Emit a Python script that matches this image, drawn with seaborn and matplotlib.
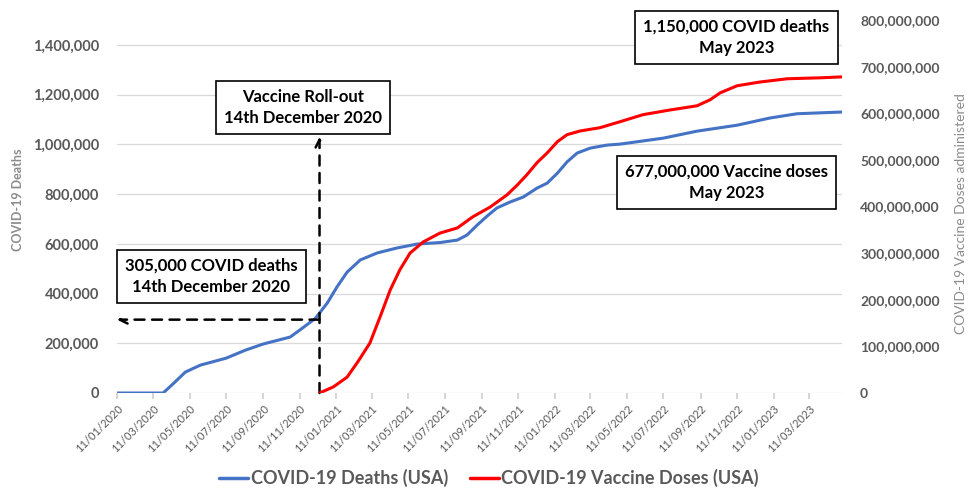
import pandas as pd
import numpy as np
import matplotlib
matplotlib.use("Agg")
import matplotlib.pyplot as plt
import matplotlib.ticker as mticker
from matplotlib.lines import Line2D
import seaborn as sns

# 数据
death_dates = ["2020-01-11", "2020-03-28", "2020-04-15", "2020-05-04", "2020-05-29", "2020-07-11",
               "2020-08-12", "2020-09-11", "2020-10-26", "2020-11-11", "2020-12-07", "2020-12-27",
               "2021-01-12", "2021-01-29", "2021-02-20", "2021-03-20", "2021-04-22", "2021-05-26",
               "2021-07-03", "2021-08-01", "2021-08-17", "2021-09-03", "2021-09-20", "2021-10-06",
               "2021-10-28", "2021-11-19", "2021-12-12", "2021-12-29", "2022-01-15", "2022-01-31",
               "2022-02-17", "2022-03-11", "2022-04-08", "2022-04-30", "2022-07-11", "2022-09-05",
               "2022-11-11", "2023-01-05", "2023-02-19", "2023-05-05"]
deaths = [0, 0, 40000, 84000, 112000, 140000,
          172000, 197000, 225000, 253000, 300000, 362000,
          426000, 486000, 535000, 563000, 583000, 599000,
          605000, 615000, 635000, 675000, 712000, 744000,
          768000, 788000, 824000, 844000, 884000, 929000,
          965000, 985000, 997000, 1001000, 1025000, 1053000,
          1077000, 1106000, 1123000, 1130000]

vax_dates = ["2020-12-14", "2021-01-06", "2021-01-29", "2021-02-16", "2021-03-08", "2021-03-25",
             "2021-04-11", "2021-04-27", "2021-05-14", "2021-06-05", "2021-07-03", "2021-08-01",
             "2021-08-27", "2021-09-25", "2021-10-23", "2021-11-09", "2021-11-25", "2021-12-12",
             "2021-12-29", "2022-01-15", "2022-01-31", "2022-02-22", "2022-03-27", "2022-04-30",
             "2022-06-07", "2022-07-22", "2022-09-05", "2022-09-27", "2022-10-14", "2022-11-11",
             "2022-12-19", "2023-02-03", "2023-03-30", "2023-05-05"]
vax_doses = [0, 13e6, 34e6, 67e6, 107e6, 163e6,
             221e6, 264e6, 300e6, 324e6, 343e6, 354e6,
             378e6, 399e6, 425e6, 446e6, 468e6, 494e6,
             515e6, 539e6, 554e6, 562e6, 569e6, 582e6,
             597e6, 607e6, 616e6, 629e6, 644e6, 659e6,
             667e6, 674e6, 676e6, 678e6]

deaths_df = pd.DataFrame({"date": pd.to_datetime(death_dates), "deaths": deaths})
vax_df = pd.DataFrame({"date": pd.to_datetime(vax_dates), "doses": vax_doses})

blue = "#4472C4"
red = "#FF0000"
grey = "#595959"

sns.set_theme(style="white")
plt.rcParams["font.family"] = ["Lato", "DejaVu Sans"]

fig = plt.figure(figsize=(9.75, 4.88), dpi=100)
ax = fig.add_axes([117 / 975, 1 - 393 / 488, (842 - 117) / 975, (393 - 20) / 488])
ax2 = ax.twinx()

sns.lineplot(data=deaths_df, x="date", y="deaths", ax=ax, color=blue, linewidth=2.2)
sns.lineplot(data=vax_df, x="date", y="doses", ax=ax2, color=red, linewidth=2.2)

ax.set_xlim(pd.Timestamp("2020-01-11"), pd.Timestamp("2023-05-05"))
ax.set_ylim(0, 1500000)
ax2.set_ylim(0, 800000000)
ax.set_yticks(np.arange(0, 1400001, 200000))
ax2.set_yticks(np.arange(0, 800000001, 100000000))
ax.yaxis.set_major_formatter(mticker.FuncFormatter(lambda v, _: f"{int(v):,}"))
ax2.yaxis.set_major_formatter(mticker.FuncFormatter(lambda v, _: f"{int(v):,}"))

# x 轴刻度: 每两个月的11号
xt = pd.date_range("2020-01-01", "2023-03-01", freq="2MS") + pd.Timedelta(days=10)
ax.set_xticks(xt)
ax.set_xticklabels([d.strftime("%d/%m/%Y") for d in xt], rotation=45, ha="right",
                   rotation_mode="anchor", fontsize=8, color=grey)
ax.tick_params(axis="x", length=4, color="#d0d0d0", pad=3, bottom=True)
ax.tick_params(axis="y", length=0, pad=13, labelsize=10.5, labelcolor=grey)
ax2.tick_params(axis="y", length=0, pad=13, labelsize=10, labelcolor=grey)
for lab in ax.get_yticklabels() + ax2.get_yticklabels():
    lab.set_fontweight("bold")

ax.grid(axis="y", color="#d9d9d9", linewidth=0.9)
ax.set_axisbelow(True)
for a in (ax, ax2):
    for s in a.spines.values():
        s.set_visible(False)
ax.set_xlabel("")
ax.set_ylabel("")
ax2.set_ylabel("")

fig.text(18 / 975, 1 - 200 / 488, "COVID-19 Deaths", rotation=90, ha="center", va="center",
         fontsize=9, fontweight="bold", color="#8c8c8c")
fig.text(961 / 975, 1 - 214 / 488, "COVID-19 Vaccine Doses administered", rotation=90,
         ha="center", va="center", fontsize=10, color="#8c8c8c")

# 箭头
roll_out = pd.Timestamp("2020-12-14")
ax.annotate("", xy=(roll_out, 1030000), xytext=(roll_out, 0),
            arrowprops=dict(arrowstyle="->", color="black", lw=1.8, linestyle=(0, (4, 3)),
                            mutation_scale=14, shrinkA=0, shrinkB=0))
ax.annotate("", xy=(pd.Timestamp("2020-01-11"), 295000), xytext=(roll_out, 295000),
            arrowprops=dict(arrowstyle="->", color="black", lw=1.8, linestyle=(0, (4, 3)),
                            mutation_scale=14, shrinkA=0, shrinkB=0))

# 文本框
box = dict(boxstyle="square,pad=0.5", facecolor="white", edgecolor="black", linewidth=1.2)
notes = [
    (303, 107.5, "Vaccine Roll-out\n14th December 2020"),
    (211.5, 276.5, "305,000 COVID deaths\n14th December 2020"),
    (736.5, 37.5, "1,150,000 COVID deaths\nMay 2023"),
    (726.5, 182.5, "677,000,000 Vaccine doses\nMay 2023"),
]
for px, py, txt in notes:
    fig.text(px / 975, 1 - py / 488, txt, ha="center", va="center", fontsize=12,
             fontweight="bold", color="black", linespacing=1.4, bbox=box, zorder=10)

handles = [Line2D([], [], color=blue, lw=2.5), Line2D([], [], color=red, lw=2.5)]
leg = fig.legend(handles, ["COVID-19 Deaths (USA)", "COVID-19 Vaccine Doses (USA)"],
                 loc="center", bbox_to_anchor=(489 / 975, 1 - 478 / 488), ncol=2, frameon=False,
                 prop={"size": 13, "weight": "bold"}, handlelength=1.6, handletextpad=0.15,
                 columnspacing=1.2)
for t in leg.get_texts():
    t.set_color(grey)

fig.savefig("out.png", dpi=100)
